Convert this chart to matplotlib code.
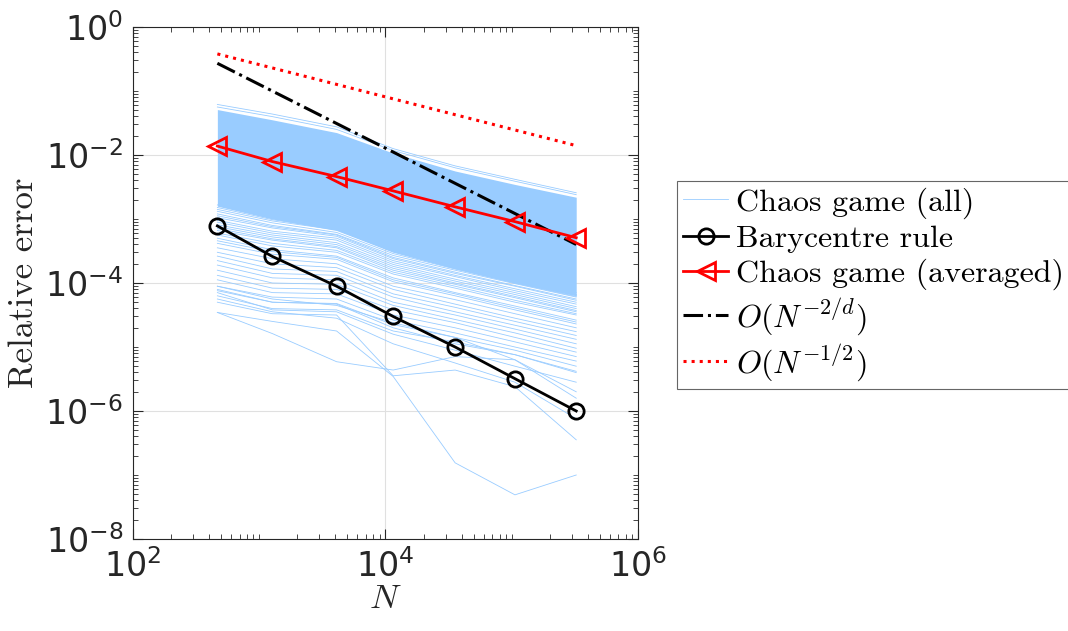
import numpy as np
import matplotlib
matplotlib.use("Agg")
import matplotlib.pyplot as plt
from matplotlib.ticker import LogLocator, NullFormatter

plt.rcParams['mathtext.fontset'] = 'cm'

# number of points N at each refinement level
N = [466, 1270, 4100, 11500, 35600, 106000, 324000]

# barycentre rule and averaged chaos game errors
bary_err = [7.8e-4, 2.6e-4, 8.9e-5, 3.0e-5, 1.0e-5, 3.2e-6, 1.0e-6]
chaos_avg_err = [1.38e-2, 7.9e-3, 4.6e-3, 2.75e-3, 1.55e-3, 9.1e-4, 5.1e-4]

# reference slopes (end points only)
ref_N = [466, 324000]
ref_two_over_d = [0.271, 4.0e-4]
ref_half = [0.38, 0.014]

# dense part of the individual chaos game runs (log10 of error), upper/lower edge
band_top_log = [-1.29, -1.45, -1.65, -1.97, -2.25, -2.46, -2.66]
band_bot_log = [-2.80, -3.00, -3.18, -3.52, -3.78, -4.00, -4.20]

# individual chaos game runs (log10 of error)
runs_log = [
    [-1.21, -1.36, -1.56, -1.90, -2.17, -2.38, -2.59],
    [-1.25, -1.40, -1.60, -1.93, -2.20, -2.41, -2.62],
    [-2.78, -2.98, -3.14, -3.50, -3.76, -3.98, -4.19],
    [-2.82, -3.01, -3.16, -3.51, -3.74, -3.96, -4.18],
    [-2.85, -3.03, -3.17, -3.50, -3.72, -3.93, -4.15],
    [-2.88, -3.06, -3.21, -3.54, -3.78, -4.00, -4.21],
    [-2.92, -3.10, -3.24, -3.57, -3.80, -4.01, -4.22],
    [-2.95, -3.12, -3.25, -3.60, -3.83, -4.04, -4.25],
    [-2.98, -3.14, -3.27, -3.62, -3.85, -4.05, -4.27],
    [-3.02, -3.19, -3.30, -3.65, -3.88, -4.09, -4.30],
    [-3.05, -3.22, -3.33, -3.68, -3.90, -4.12, -4.33],
    [-3.09, -3.25, -3.37, -3.71, -3.94, -4.15, -4.37],
    [-3.12, -3.28, -3.40, -3.74, -3.97, -4.18, -4.40],
    [-3.15, -3.31, -3.43, -3.77, -4.00, -4.21, -4.43],
    [-3.18, -3.33, -3.45, -3.80, -4.02, -4.23, -4.45],
    [-3.22, -3.38, -3.49, -3.83, -4.05, -4.27, -4.48],
    [-3.25, -3.42, -3.52, -3.86, -4.08, -4.30, -4.50],
    [-3.30, -3.48, -3.58, -3.92, -4.15, -4.36, -4.58],
    [-3.34, -3.51, -3.60, -3.95, -4.17, -4.39, -4.61],
    [-3.38, -3.55, -3.63, -3.98, -4.20, -4.42, -4.64],
    [-3.45, -3.62, -3.70, -4.05, -4.26, -4.48, -4.70],
    [-3.52, -3.70, -3.76, -4.10, -4.33, -4.55, -4.76],
    [-3.58, -3.78, -3.82, -4.17, -4.38, -4.60, -4.82],
    [-3.65, -3.85, -3.88, -4.22, -4.45, -4.66, -4.88],
    [-3.72, -3.92, -3.95, -4.30, -4.50, -4.72, -4.95],
    [-3.80, -4.00, -4.02, -4.35, -4.57, -4.78, -5.02],
    [-3.88, -4.08, -4.10, -4.42, -4.62, -4.85, -5.08],
    [-3.95, -4.15, -4.17, -4.50, -4.70, -4.92, -5.15],
    [-4.05, -4.22, -4.25, -4.58, -4.78, -5.00, -5.22],
    [-4.12, -4.30, -4.32, -4.65, -4.85, -5.05, -5.30],
    [-4.20, -4.40, -4.42, -4.75, -4.92, -5.12, -5.38],
    [-4.15, -4.42, -4.45, -4.80, -5.05, -5.30, -5.55],
    [-4.10, -4.30, -4.33, -4.70, -4.95, -5.12, -5.40],
    [-4.05, -4.25, -4.35, -4.62, -4.85, -5.20, -5.70],
    [-4.25, -4.45, -4.55, -4.95, -5.25, -5.55, -6.12],
    [-4.30, -4.48, -4.50, -5.45, -5.36, -5.62, -6.45],
    [-4.46, -4.79, -5.23, -5.36, -5.15, -5.20, -5.80],
    [-4.46, -4.60, -4.75, -5.46, -6.81, -7.31, -7.00],
]

light_blue = (0.6, 0.8, 1.0)
dark = (0.15, 0.15, 0.15)

fig = plt.figure(figsize=(10.68, 6.31), dpi=100)
ax = fig.add_axes([0.1245, 0.1458, 0.4729, 0.8114])

ax.fill_between(N, 10.0 ** np.array(band_bot_log), 10.0 ** np.array(band_top_log),
                color=light_blue, lw=0, zorder=1)
for i, r in enumerate(runs_log):
    ax.plot(N, 10.0 ** np.array(r), color=light_blue, lw=0.6, zorder=1.5,
            label='Chaos game (all)' if i == 0 else None)

ax.plot(N, bary_err, '-o', color='k', lw=2, ms=11, mfc='none', mew=2,
        label='Barycentre rule', zorder=3)
ax.plot(N, chaos_avg_err, '-<', color='r', lw=2, ms=13, mfc='none', mew=2,
        label='Chaos game (averaged)', zorder=3)
ax.plot(ref_N, ref_two_over_d, '-.', color='k', lw=2.2,
        label=r'$O(N^{-2/d})$', zorder=2.5)
ax.plot(ref_N, ref_half, ':', color='r', lw=2.2,
        label=r'$O(N^{-1/2})$', zorder=2.5)

ax.set_xscale('log')
ax.set_yscale('log')
ax.set_xlim(1e2, 1e6)
ax.set_ylim(1e-8, 1e0)

ax.xaxis.set_major_locator(LogLocator(base=100, subs=(1.0,), numticks=10))
ax.yaxis.set_major_locator(LogLocator(base=100, subs=(1.0,), numticks=10))
ax.xaxis.set_minor_locator(LogLocator(base=10, subs=np.arange(1, 10) * 1.0, numticks=100))
ax.yaxis.set_minor_locator(LogLocator(base=10, subs=np.arange(1, 10) * 1.0, numticks=100))
ax.xaxis.set_minor_formatter(NullFormatter())
ax.yaxis.set_minor_formatter(NullFormatter())

ax.grid(True, which='major', color=(0.88, 0.88, 0.88), lw=0.8, zorder=0)
ax.set_axisbelow(True)
ax.tick_params(which='both', direction='in', top=True, right=True, colors=dark,
               labelsize=24)
ax.tick_params(which='major', length=7, width=0.8, pad=7)
ax.tick_params(which='minor', length=3.5, width=0.6)
for s in ax.spines.values():
    s.set_color(dark)
    s.set_linewidth(0.8)

ax.set_xlabel(r'$N$', fontsize=25, color=dark, labelpad=-2)
ax.set_ylabel('Relative error', family='cmr10', fontsize=25, color=dark, labelpad=4)

leg = ax.legend(loc='upper left', bbox_to_anchor=(677 / 1068, 1 - 181 / 631),
                bbox_transform=fig.transFigure, prop={'family': 'cmr10', 'size': 23},
                handlelength=1.4, handletextpad=0.25, borderpad=0.2,
                labelspacing=0.18, borderaxespad=0, fancybox=False,
                framealpha=1, edgecolor=(0.4, 0.4, 0.4))
leg.get_frame().set_linewidth(0.8)

fig.savefig('out.png', dpi=100)
